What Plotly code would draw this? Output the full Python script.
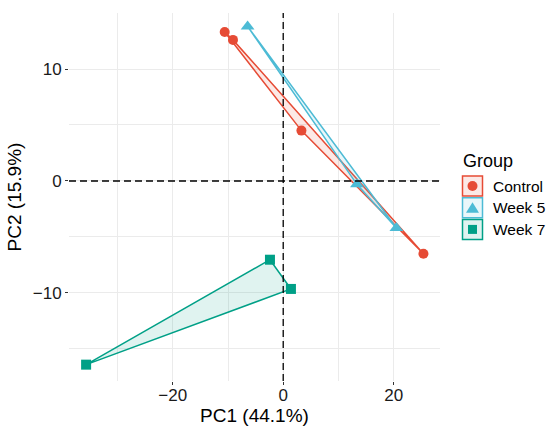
import plotly.graph_objects as go

# PCA scores
groups = ["Control", "Week 5", "Week 7"]
pc1 = {
    "Control": [-10.6, -9.1, 3.3, 25.4],
    "Week 5": [-6.45, 13.35, 20.5],
    "Week 7": [-35.7, -2.4, 1.4],
}
pc2 = {
    "Control": [13.3, 12.6, 4.5, -6.5],
    "Week 5": [13.8, -0.3, -4.2],
    "Week 7": [-16.4, -7.03, -9.64],
}
colors = {"Control": "#E64B35", "Week 5": "#4DBBD5", "Week 7": "#00A087"}
fills = {"Control": "rgba(230,75,53,0.12)", "Week 5": "rgba(77,187,213,0.12)",
         "Week 7": "rgba(0,160,135,0.12)"}
symbols = {"Control": "circle", "Week 5": "triangle-up", "Week 7": "square"}
msize = {"Control": 10, "Week 5": 12, "Week 7": 10}

# figure geometry in pixels
W, H = 550, 436
PL, PR, PT, PB = 69, 440, 13, 381   # panel edges


def px(x):
    return (x - PL) / (PR - PL)


def py(y):
    return (PB - y) / (PB - PT)


def hull(xs, ys):
    # monotone chain convex hull
    pts = sorted(zip(xs, ys))
    if len(pts) < 3:
        return pts

    def cross(o, a, b):
        return (a[0] - o[0]) * (b[1] - o[1]) - (a[1] - o[1]) * (b[0] - o[0])

    lower, upper = [], []
    for p in pts:
        while len(lower) >= 2 and cross(lower[-2], lower[-1], p) <= 0:
            lower.pop()
        lower.append(p)
    for p in reversed(pts):
        while len(upper) >= 2 and cross(upper[-2], upper[-1], p) <= 0:
            upper.pop()
        upper.append(p)
    return lower[:-1] + upper[:-1]


fig = go.Figure()

for g in groups:
    h = hull(pc1[g], pc2[g])
    hx = [p[0] for p in h] + [h[0][0]]
    hy = [p[1] for p in h] + [h[0][1]]
    fig.add_trace(go.Scatter(
        x=hx, y=hy, mode="lines", fill="toself", fillcolor=fills[g],
        line=dict(color=colors[g], width=1.5), showlegend=False,
        hoverinfo="skip",
    ))
for g in groups:
    fig.add_trace(go.Scatter(
        x=pc1[g], y=pc2[g], mode="markers", name=g, showlegend=False,
        marker=dict(symbol=symbols[g], size=msize[g], color=colors[g],
                    line=dict(width=0)),
    ))

axis_common = dict(
    showgrid=True, gridcolor="#EBEBEB", gridwidth=1.1, zeroline=False,
    showline=False, ticks="outside", ticklen=3, tickcolor="#333333",
    tickfont=dict(size=17, color="#1a1a1a"), automargin=False,
)

fig.update_layout(
    width=W, height=H,
    margin=dict(l=PL, r=W - PR, t=PT, b=H - PB),
    paper_bgcolor="white", plot_bgcolor="white",
    font=dict(family="Liberation Sans, Arial, sans-serif", color="black"),
    xaxis=dict(
        range=[-38.8, 28.4], tick0=0, dtick=20,
        minor=dict(dtick=10, showgrid=True, gridcolor="#EBEBEB", gridwidth=1.1),
        title=dict(text="PC1 (44.1%)", font=dict(size=19), standoff=4),
        ticklabelstandoff=-4,
        **axis_common,
    ),
    yaxis=dict(
        range=[-17.86, 15.0], tick0=0, dtick=10,
        minor=dict(dtick=5, showgrid=True, gridcolor="#EBEBEB", gridwidth=1.1),
        title=dict(text="PC2 (15.9%)", font=dict(size=19), standoff=6),
        **axis_common,
    ),
    showlegend=False,
)

fig.add_hline(y=0, line=dict(color="black", width=1.3, dash="7px,4px"))
fig.add_vline(x=0, line=dict(color="black", width=1.3, dash="7px,4px"))

# hand-made legend, ggplot style keys
fig.add_annotation(text="Group", x=px(461), y=py(161), xref="paper", yref="paper",
                   xanchor="left", yanchor="middle", showarrow=False,
                   font=dict(size=18, color="black"))
for i, g in enumerate(groups):
    cy = 186 + 21.7 * i
    cx = 472.5
    fig.add_shape(type="rect", xref="paper", yref="paper",
                  x0=px(462.5), x1=px(482.5), y0=py(cy - 10), y1=py(cy + 10),
                  line=dict(color=colors[g], width=1.5), fillcolor=fills[g])
    if symbols[g] == "circle":
        fig.add_shape(type="circle", xref="paper", yref="paper",
                      x0=px(cx - 5), x1=px(cx + 5), y0=py(cy - 5), y1=py(cy + 5),
                      line=dict(width=0), fillcolor=colors[g])
    elif symbols[g] == "square":
        fig.add_shape(type="rect", xref="paper", yref="paper",
                      x0=px(cx - 4.5), x1=px(cx + 4.5), y0=py(cy - 4.5), y1=py(cy + 4.5),
                      line=dict(width=0), fillcolor=colors[g])
    else:
        path = "M {:.5f},{:.5f} L {:.5f},{:.5f} L {:.5f},{:.5f} Z".format(
            px(cx), py(cy - 5.5), px(cx - 6.5), py(cy + 5), px(cx + 6.5), py(cy + 5))
        fig.add_shape(type="path", xref="paper", yref="paper", path=path,
                      line=dict(width=0), fillcolor=colors[g])
    fig.add_annotation(text=g, x=px(491), y=py(cy), xref="paper", yref="paper",
                       xanchor="left", yanchor="middle", showarrow=False,
                       font=dict(size=15.5, color="black"))

fig.write_html(
    "out.html",
    config={"displayModeBar": False},
    post_script="document.body.style.margin='0';document.body.style.overflow='hidden';",
)
